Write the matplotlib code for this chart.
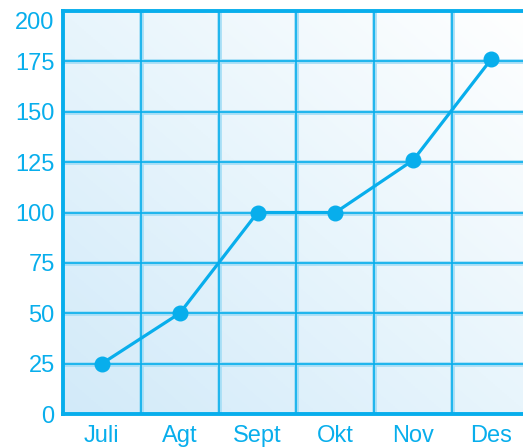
import matplotlib
matplotlib.use("Agg")
import matplotlib.pyplot as plt
import matplotlib.transforms as mtransforms
import numpy as np
from matplotlib.colors import LinearSegmentedColormap

months = ["Juli", "Agt", "Sept", "Okt", "Nov", "Des"]
values = [25, 50, 100, 100, 126, 176]
yticks = [0, 25, 50, 75, 100, 125, 150, 175, 200]

blue = "#08aeec"
plt.rcParams['font.family'] = ['Liberation Sans', 'DejaVu Sans']

fig = plt.figure(figsize=(5.23, 4.48), dpi=100)
ax = fig.add_axes([63/523, 34/448, 467/523, 403/448])

x = np.arange(len(months))
ax.set_xlim(-0.5, len(months) - 0.5)
ax.set_ylim(0, 200)

# gradient background
gx, gy = np.meshgrid(np.linspace(0, 1, 200), np.linspace(0, 1, 200))
g = (gx + gy) / 2
cmap = LinearSegmentedColormap.from_list("bg", ["#d2eaf9", "#e8f5fc", "#ffffff"])
ax.imshow(g, extent=[-0.5, len(months) - 0.5, 0, 200], origin="lower",
          cmap=cmap, aspect="auto", zorder=0)

# grid
for xb in np.arange(0.5, len(months) - 0.5, 1):
    ax.axvline(xb, color="#a6def6", lw=3.4, zorder=1)
    ax.axvline(xb, color=blue, lw=1.2, zorder=1.1)
for yv in yticks[1:-1]:
    ax.axhline(yv, color="#a6def6", lw=3.4, zorder=1)
    ax.axhline(yv, color=blue, lw=1.2, zorder=1.1)

ax.plot(x, values, color=blue, lw=2.3, marker="o", markersize=10.5,
        markerfacecolor=blue, markeredgecolor=blue, zorder=3, clip_on=False)

for s in ["left", "bottom", "top"]:
    ax.spines[s].set_color(blue)
    ax.spines[s].set_linewidth(2.8)
ax.spines["right"].set_visible(False)

ax.set_xticks(x)
ax.set_xticklabels(months)
ax.set_yticks(yticks)
ax.tick_params(axis="both", length=0, labelcolor=blue, labelsize=17)
ax.tick_params(axis="y", pad=6)
ax.tick_params(axis="x", pad=8)

# top label sits a little below its line
fig.canvas.draw()
top_label = ax.get_yticklabels()[-1]
top_label.set_transform(top_label.get_transform() +
                        mtransforms.ScaledTranslation(0, -9/100, fig.dpi_scale_trans))

fig.savefig("out.png", dpi=100)
